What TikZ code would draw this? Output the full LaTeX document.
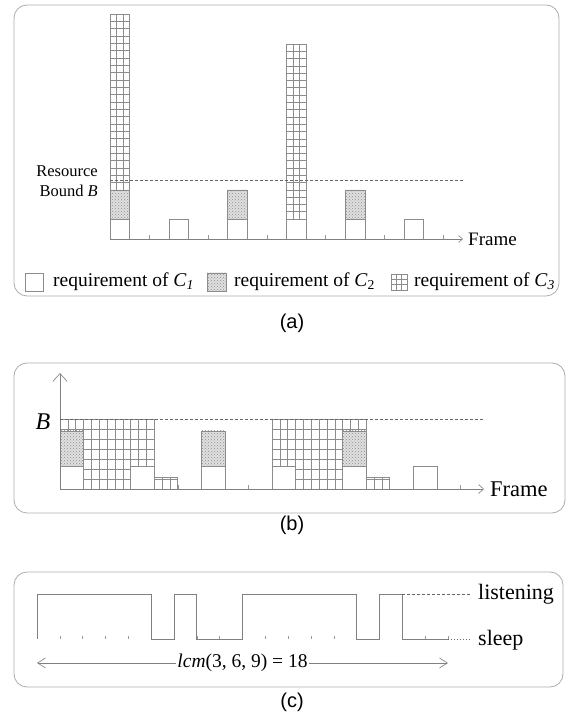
\documentclass[tikz,border=0pt]{standalone}
\usepackage{fontspec}
\setmainfont{Liberation Serif}
\newfontfamily\capfont{Liberation Sans}
\usetikzlibrary{arrows.meta,patterns}

% grid-filled block: x, y-bottom, y-top, width, grid origin y, x step, y step
\newcommand\gblk[7]{%
  \draw[gridln, shift={(#1,#5)}, xstep=#6pt, ystep=#7pt] (0,#2-#5) grid (#4,#3-#5);
  \draw[bar] (#1,#2) rectangle ++(#4,#3-#2);}

\begin{document}
\begin{tikzpicture}[x=1pt,y=1pt,
  panel/.style={draw=black!32, line width=0.8pt, rounded corners=13pt},
  bar/.style={draw=black!45, line width=0.6pt},
  gridln/.style={draw=black!45, line width=0.5pt},
  c1box/.style={bar, fill=white},
  c2box/.style={bar, preaction={fill=black!12}, pattern=crosshatch dots, pattern color=black!45},
  axisln/.style={draw=black!50, line width=0.6pt},
  tickln/.style={draw=black!40, line width=0.5pt},
  bound/.style={draw=black!60, line width=0.5pt, dash pattern=on 3pt off 2pt},
  dotln/.style={draw=black!60, line width=0.5pt, dash pattern=on 1.5pt off 1.5pt},
  sig/.style={draw=black!50, line width=0.7pt},
  lab/.style={inner sep=0pt, text=black},
  captext/.style={font=\capfont\fontsize{20}{24}\selectfont, inner sep=0pt},
]
\useasboundingbox (0,0) rectangle (577,717);
\fill[white] (0,0) rectangle (577,717);

% ---------- panel (a): requirements per frame ----------
\draw[panel] (14,421) rectangle (559,712);
\coordinate (aO) at (110,478);
\coordinate (aE) at (463,478);
\foreach \i in {1,...,17} \draw[tickln] ({110+\i*19.6},478) -- ++(0,3.5);
\foreach \f in {0,3,...,15} \draw[c1box] ({110+\f*19.6},478) rectangle ++(19.6,20);
\foreach \f in {0,6,12} \draw[c2box] ({110+\f*19.6},498) rectangle ++(19.6,29);
\gblk{110}{527}{703}{19.6}{703}{6.533}{7.33}
\gblk{286.4}{498}{673}{19.6}{673}{6.533}{7.29}
\draw[axisln, -{Straight Barb[length=4pt,width=7pt]}] (aO) -- (aE);
\coordinate (aB1) at (110,537);
\coordinate (aB2) at (463,537);
\draw[bound] (aB1) -- (aB2);
\node[lab, anchor=west, font=\fontsize{19}{23}\selectfont] (aF) at ([xshift=5pt]aE) {Frame};
\node[lab, anchor=east, font=\fontsize{16.5}{20}\selectfont] (aR1) at (98,546) {Resource};
\node[lab, anchor=east, font=\fontsize{16.5}{20}\selectfont] (aR2) at (98,526) {Bound \textit{B}};

% legend
\draw[c1box] (25,426) rectangle (43,444);
\node[lab, anchor=west, font=\fontsize{19.5}{23}\selectfont] (aL1) at (53,435) {requirement of \textit{C}\textsubscript{\textit{1}}};
\draw[c2box] (207,426) rectangle (226,444);
\node[lab, anchor=west, font=\fontsize{19.5}{23}\selectfont] (aL2) at (234,435) {requirement of \textit{C}\textsubscript{2}};
\gblk{391}{427}{443}{16}{443}{5.33}{5.33}
\node[lab, anchor=west, font=\fontsize{19.5}{23}\selectfont] (aL3) at (414,435) {requirement of \textit{C}\textsubscript{\textit{3}}};

\node[captext] (capA) at (292,394) {(a)};

% ---------- panel (b): schedule under the bound ----------
\draw[panel] (14,204) rectangle (565,354);
\coordinate (bO) at (60,228);
\coordinate (bX) at (484,228);
\coordinate (bY) at (60,344);
\foreach \i in {1,...,17} \draw[tickln] ({60+\i*23.55},228) -- ++(0,4);
\foreach \f in {0,3,...,15} \draw[c1box] ({60+\f*23.55},228) rectangle ++(23.55,23);
\foreach \f in {0,6,12} \draw[c2box] ({60+\f*23.55},251) rectangle ++(23.55,35);
\gblk{60}{286}{298}{23.55}{298}{7.85}{10}
\gblk{83.55}{228}{298}{47.1}{298}{7.85}{10}
\gblk{130.65}{251}{298}{23.55}{298}{7.85}{10}
\gblk{154.2}{228}{240}{23.55}{298}{7.85}{10}
\gblk{271.95}{251}{298}{23.55}{298}{7.85}{10}
\gblk{295.5}{228}{298}{47.1}{298}{7.85}{10}
\gblk{342.6}{286}{298}{23.55}{298}{7.85}{10}
\gblk{366.15}{228}{240}{23.55}{298}{7.85}{10}
\draw[axisln, -{Straight Barb[length=5pt,width=9pt]}] (bO) -- (bX);
\draw[axisln, -{Straight Barb[length=8pt,width=14pt]}] (bO) -- (bY);
\coordinate (bB1) at (60,298);
\coordinate (bB2) at (484,298);
\draw[bound] (bB1) -- (bB2);
\node[lab, font=\fontsize{24}{28}\selectfont] (bB) at (43,295) {\textit{B}};
\node[lab, anchor=west, font=\fontsize{22.5}{27}\selectfont] (bF) at ([xshift=6pt]bX) {Frame};

\node[captext] (capB) at (292,192) {(b)};

% ---------- panel (c): radio state over one hyperperiod ----------
\draw[panel] (14,30) rectangle (563,145);
\foreach \k in {0,...,18} \draw[tickln] ({37+\k*22.83},78) -- ++(0,3);
\draw[sig] (37,78) -- (37,123) -- (151.15,123) -- (151.15,78) -- (173.98,78)
  -- (173.98,123) -- (196.81,123) -- (196.81,78) -- (242.47,78) -- (242.47,123)
  -- (356.62,123) -- (356.62,78) -- (379.45,78) -- (379.45,123) -- (402.28,123)
  -- (402.28,78) -- (447.94,78);
\coordinate (cL1) at (402.28,123);
\coordinate (cL2) at (470,123);
\coordinate (cS1) at (447.94,78);
\coordinate (cS2) at (470,78);
\draw[bound] (cL1) -- (cL2);
\draw[dotln] (cS1) -- (cS2);
\node[lab, anchor=west, font=\fontsize{22}{26}\selectfont] (cListen) at (478,123) {listening};
\node[lab, anchor=west, font=\fontsize{22}{26}\selectfont] (cSleep) at (478,77) {sleep};
\coordinate (cA1) at (37,54);
\coordinate (cA2) at (448,54);
\draw[axisln, {Straight Barb[length=8pt,width=10pt]}-{Straight Barb[length=8pt,width=10pt]}] (cA1) -- (cA2);
\node[lab, fill=white, inner xsep=1pt, font=\fontsize{19.5}{23}\selectfont] (cLcm) at (242.5,54) {\textit{lcm}(3, 6, 9) = 18};

\node[captext] (capC) at (292,15) {(c)};
\end{tikzpicture}
\end{document}
